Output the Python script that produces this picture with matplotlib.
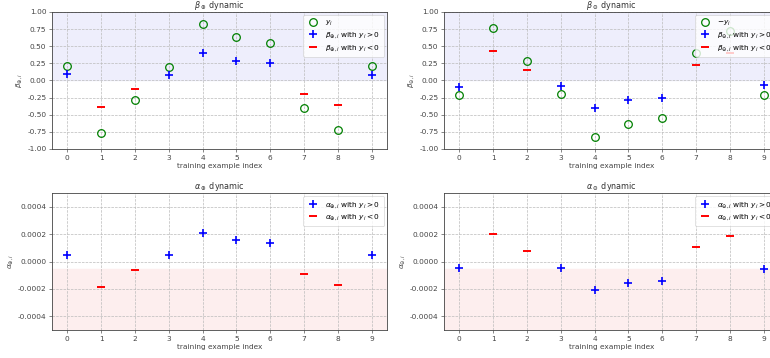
import numpy as np
import matplotlib
matplotlib.use("Agg")
import matplotlib.pyplot as plt

idx = np.arange(10)
y = [0.21, -0.77, -0.29, 0.19, 0.83, 0.63, 0.55, -0.40, -0.72, 0.21]
pos_idx = [0, 3, 4, 5, 6, 9]
neg_idx = [1, 2, 7, 8]

beta_plus_pos = [0.10, 0.08, 0.40, 0.29, 0.26, 0.08]
beta_plus_neg = [-0.38, -0.12, -0.19, -0.36]
beta_minus_pos = [-0.09, -0.08, -0.40, -0.29, -0.26, -0.07]
beta_minus_neg = [0.43, 0.16, 0.23, 0.40]

alpha_plus_pos = [0.00005, 0.000045, 0.00021, 0.00016, 0.00014, 0.00005]
alpha_plus_neg = [-0.000185, -0.00006, -0.00009, -0.00017]
alpha_minus_pos = [-0.00005, -0.000045, -0.00021, -0.000155, -0.000138, -0.000055]
alpha_minus_neg = [0.0002, 0.00008, 0.00011, 0.00019]

FS = 5.3
plt.rcParams.update({
    'font.size': FS,
    'font.family': 'DejaVu Sans',
    'axes.edgecolor': '#444444',
    'axes.linewidth': 0.6,
    'xtick.color': '#555555',
    'ytick.color': '#555555',
    'xtick.labelcolor': '#444444',
    'ytick.labelcolor': '#444444',
    'xtick.major.size': 2.0,
    'ytick.major.size': 2.0,
    'xtick.major.width': 0.5,
    'ytick.major.width': 0.5,
    'xtick.major.pad': 2.0,
    'ytick.major.pad': 2.0,
    'mathtext.fontset': 'dejavusans',
})

fig = plt.figure(figsize=(7.70, 3.58), dpi=100)
W, H = 770, 358
def ax_at(x0, y0, x1, y1):
    return fig.add_axes([x0 / W, 1 - y1 / H, (x1 - x0) / W, (y1 - y0) / H])

ax1 = ax_at(52, 12, 387, 149)
ax2 = ax_at(444, 12, 779, 149)
ax3 = ax_at(52, 193.3, 387, 330)
ax4 = ax_at(444, 193.3, 779, 330)

circ = dict(marker='o', linestyle='none', markerfacecolor='none', markeredgecolor='green', markersize=5.5, markeredgewidth=0.9)
plus = dict(marker='+', linestyle='none', color='blue', markersize=6, markeredgewidth=1.2)
dash = dict(marker='_', linestyle='none', color='red', markersize=6, markeredgewidth=1.4)

def style(ax, title, ylabel):
    ax.set_title(title, fontsize=FS + 0.5, color='#333333', pad=2.5)
    ax.set_xlabel('training example index', fontsize=FS, color='#444444', labelpad=1.5)
    ax.set_ylabel(ylabel, fontsize=FS, color='#444444', labelpad=2)
    ax.set_xticks(idx)
    ax.grid(True, linestyle='--', color='#bbbbbb', linewidth=0.5)
    ax.set_axisbelow(True)

def leg(ax):
    l = ax.legend(loc='upper right', fontsize=FS, framealpha=0.8, edgecolor='#cccccc',
                  borderpad=0.55, handlelength=1.6, labelspacing=0.3, fancybox=True,
                  borderaxespad=0.4)
    l.get_frame().set_linewidth(0.5)

# top-left
ax1.axhspan(0, 1, color='#eeeefc', zorder=0)
ax1.plot(idx, y, label='$y_i$', **circ)
ax1.plot(pos_idx, beta_plus_pos, label=r'$\beta_{\oplus,i}$ with $y_i>0$', **plus)
ax1.plot(neg_idx, beta_plus_neg, label=r'$\beta_{\oplus,i}$ with $y_i<0$', **dash)
ax1.set_ylim(-1, 1)
ax1.set_yticks(np.arange(-1, 1.01, 0.25))
ax1.yaxis.set_major_formatter(matplotlib.ticker.FormatStrFormatter('%.2f'))
style(ax1, r'$\beta_\oplus$ dynamic', r'$\beta_{\oplus,i}$')
leg(ax1)

# top-right
ax2.axhspan(0, 1, color='#eeeefc', zorder=0)
ax2.plot(idx, [-v for v in y], label='$-y_i$', **circ)
ax2.plot(pos_idx, beta_minus_pos, label=r'$\beta_{\ominus,i}$ with $y_i>0$', **plus)
ax2.plot(neg_idx, beta_minus_neg, label=r'$\beta_{\ominus,i}$ with $y_i<0$', **dash)
ax2.set_ylim(-1, 1)
ax2.set_yticks(np.arange(-1, 1.01, 0.25))
ax2.yaxis.set_major_formatter(matplotlib.ticker.FormatStrFormatter('%.2f'))
style(ax2, r'$\beta_\ominus$ dynamic', r'$\beta_{\ominus,i}$')
leg(ax2)

# bottom-left
ax3.axhspan(-0.0005, -0.000054, color='#fdeeee', zorder=0)
ax3.plot(pos_idx, alpha_plus_pos, label=r'$\alpha_{\oplus,i}$ with $y_i>0$', **plus)
ax3.plot(neg_idx, alpha_plus_neg, label=r'$\alpha_{\oplus,i}$ with $y_i<0$', **dash)
ax3.set_ylim(-0.0005, 0.0005)
ax3.set_yticks([-0.0004, -0.0002, 0.0, 0.0002, 0.0004])
ax3.yaxis.set_major_formatter(matplotlib.ticker.FormatStrFormatter('%.4f'))
style(ax3, r'$\alpha_\oplus$ dynamic', r'$\alpha_{\oplus,i}$')
leg(ax3)

# bottom-right
ax4.axhspan(-0.0005, -0.000054, color='#fdeeee', zorder=0)
ax4.plot(pos_idx, alpha_minus_pos, label=r'$\alpha_{\ominus,i}$ with $y_i>0$', **plus)
ax4.plot(neg_idx, alpha_minus_neg, label=r'$\alpha_{\ominus,i}$ with $y_i<0$', **dash)
ax4.set_ylim(-0.0005, 0.0005)
ax4.set_yticks([-0.0004, -0.0002, 0.0, 0.0002, 0.0004])
ax4.yaxis.set_major_formatter(matplotlib.ticker.FormatStrFormatter('%.4f'))
style(ax4, r'$\alpha_\ominus$ dynamic', r'$\alpha_{\ominus,i}$')
leg(ax4)

fig.savefig('out.png', dpi=100)
